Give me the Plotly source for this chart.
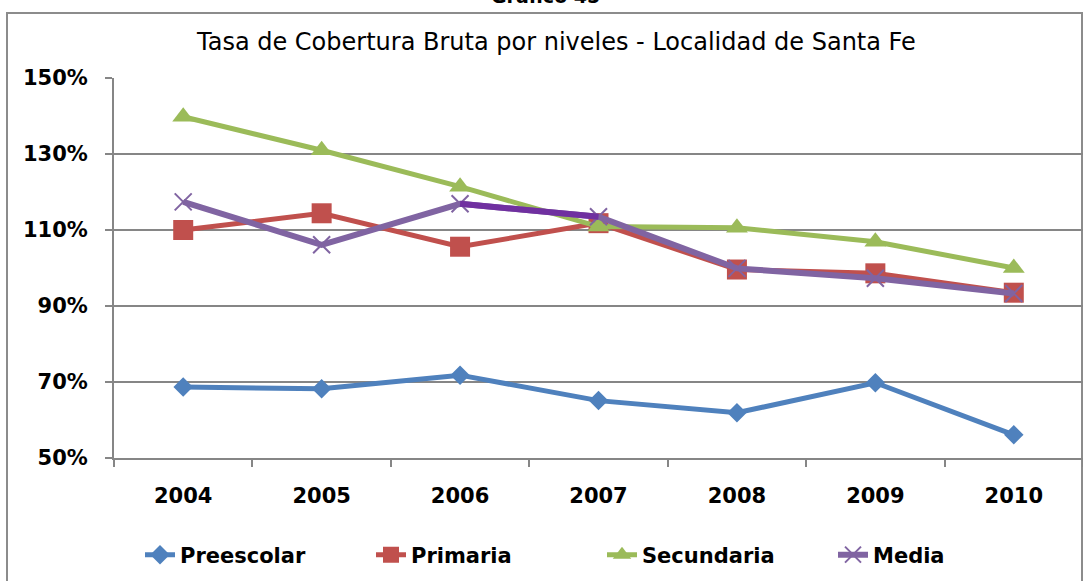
import plotly.graph_objects as go

years = ["2004", "2005", "2006", "2007", "2008", "2009", "2010"]
preescolar = [68.7, 68.2, 71.8, 65.1, 61.9, 69.8, 56.1]
primaria = [110.0, 114.4, 105.6, 111.8, 99.6, 98.6, 93.5]
secundaria = [139.8, 131.0, 121.4, 110.9, 110.6, 106.9, 100.0]
media = [117.4, 106.1, 116.9, 113.5, 99.9, 97.3, 93.3]
y_ticks = [50, 70, 90, 110, 130, 150]
y_labels = [f"{v}%" for v in y_ticks]

W, H = 1083, 581
L, R, T, B = 114, 0, 78, 123
PW, PH = W - L - R, H - T - B


def px_x(x):
    return (x - L) / PW


def px_y(y):
    return (H - B - y) / PH


font_family = "'DejaVu Sans', Verdana, sans-serif"

fig = go.Figure()

fig.add_trace(go.Scatter(
    x=years, y=preescolar, name="Preescolar", mode="lines+markers",
    line=dict(color="#4F81BD", width=5),
    marker=dict(symbol="diamond", size=15, color="#4F81BD"),
))
fig.add_trace(go.Scatter(
    x=years, y=primaria, name="Primaria", mode="lines+markers",
    line=dict(color="#C0504D", width=5),
    marker=dict(symbol="square", size=20, color="#C0504D"),
))
fig.add_trace(go.Scatter(
    x=years, y=secundaria, name="Secundaria", mode="lines+markers",
    line=dict(color="#9BBB59", width=5),
    marker=dict(symbol="triangle-up", size=19, color="#9BBB59"),
))
fig.add_trace(go.Scatter(
    x=years, y=media, name="Media", mode="lines+markers",
    line=dict(color="#8064A2", width=6),
    marker=dict(symbol="x-thin", size=17, color="#8064A2",
                line=dict(color="#8064A2", width=2)),
))
# 2006-2007 segment of Media highlighted in darker purple
fig.add_trace(go.Scatter(
    x=years[2:4], y=media[2:4], mode="lines", showlegend=False,
    line=dict(color="#7030A0", width=6), hoverinfo="skip",
))

fig.update_layout(
    width=W, height=H,
    margin=dict(l=L, r=R, t=T, b=B, autoexpand=False),
    paper_bgcolor="white", plot_bgcolor="white",
    font=dict(family=font_family, color="black"),
    showlegend=True,
    legend=dict(
        orientation="h", x=px_x(140), y=px_y(555),
        xanchor="left", yanchor="middle",
        font=dict(size=21, weight="bold"),
        traceorder="normal", entrywidth=186, entrywidthmode="pixels",
    ),
    annotations=[
        dict(text="Tasa de Cobertura Bruta por niveles - Localidad de Santa Fe",
             xref="paper", yref="paper", x=px_x(556), y=px_y(42),
             xanchor="center", yanchor="middle", showarrow=False,
             font=dict(size=24, family=font_family)),
        dict(text="Gráfico 45",
             xref="paper", yref="paper", x=px_x(545), y=px_y(-4),
             xanchor="center", yanchor="middle", showarrow=False,
             font=dict(size=19, family=font_family, weight="bold")),
    ],
    shapes=[
        dict(type="rect", xref="paper", yref="paper",
             x0=px_x(7), x1=px_x(1082), y0=px_y(13), y1=px_y(600),
             line=dict(color="#8C8C8C", width=2), layer="below"),
    ],
)

fig.update_xaxes(
    type="category", range=[-0.5, 6.5],
    showgrid=False, showline=True, linecolor="#868686", linewidth=2,
    ticks="outside", tickson="boundaries", ticklen=7, tickwidth=2,
    tickcolor="#868686", ticklabelstandoff=18,
    tickfont=dict(size=21, weight="bold"),
)
fig.update_yaxes(
    range=[50, 150], tickmode="array", tickvals=y_ticks, ticktext=y_labels,
    showgrid=True, gridcolor="#868686", gridwidth=2,
    showline=True, linecolor="#868686", linewidth=2,
    ticks="outside", ticklen=7, tickwidth=2, tickcolor="#868686",
    ticklabelstandoff=13, zeroline=False,
    tickfont=dict(size=21, weight="bold"),
)

fig.write_html(
    "out.html",
    config={"displayModeBar": False},
    post_script="document.body.style.margin='0';document.body.style.overflow='hidden';",
)
